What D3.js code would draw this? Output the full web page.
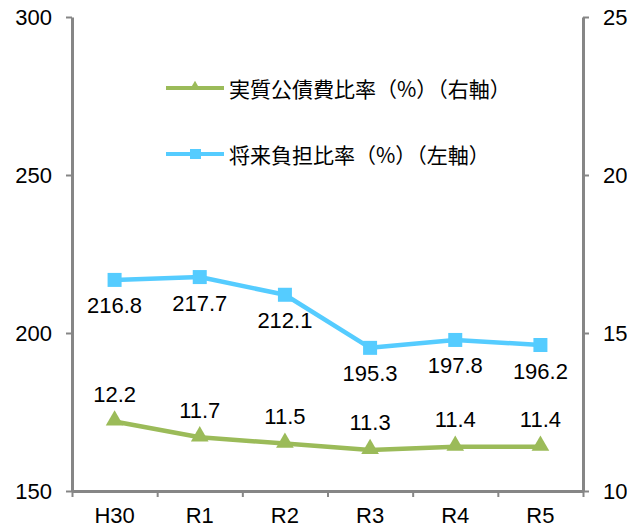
<!DOCTYPE html>
<html><head><meta charset="utf-8">
<script src="https://cdn.jsdelivr.net/npm/d3@7/dist/d3.min.js"></script>
<style>
html,body{margin:0;padding:0;background:#fff;}
svg{display:block;}
</style></head>
<body>
<svg id="chart" width="627" height="529"></svg>
<script>
const categories = ["H30", "R1", "R2", "R3", "R4", "R5"];
const burdenRatio = [216.8, 217.7, 212.1, 195.3, 197.8, 196.2];     // 将来負担比率 (left axis)
const debtRatio = [12.2, 11.7, 11.5, 11.3, 11.4, 11.4];             // 実質公債費比率 (right axis)
const leftTicks = [150, 200, 250, 300];
const rightTicks = [10, 15, 20, 25];
const burdenName = "将来負担比率（%）（左軸）";
const debtName = "実質公債費比率（%）（右軸）";

const svg = d3.select("#chart");
const X0 = 72, X1 = 583, Y0 = 17, Y1 = 491;
const axisColor = "#868686";
const blue = "#55CCFF", green = "#9BBB59";
const numFont = "'Liberation Sans', Arial, sans-serif";
const cjkFont = "'Noto Sans CJK JP', 'Noto Sans', sans-serif";

const x = d3.scaleBand().domain(categories).range([X0, X1]);
const xEdge = d3.scaleLinear().domain([0, categories.length]).range([X0, X1]);
const yL = d3.scaleLinear().domain([150, 300]).range([Y1, Y0]);
const yR = d3.scaleLinear().domain([10, 25]).range([Y1, Y0]);

function styleAxis(g) {
  g.selectAll("path.domain").attr("stroke", axisColor).attr("stroke-width", 3);
  g.selectAll(".tick line").attr("stroke", axisColor).attr("stroke-width", 2);
  g.selectAll("text").attr("fill", "#000").style("font-family", numFont).style("font-size", "22px");
}

// left axis
svg.append("g").attr("transform", `translate(${X0},0)`)
  .call(d3.axisLeft(yL).tickValues(leftTicks).tickSize(6).tickSizeOuter(0).tickPadding(14))
  .call(styleAxis);

// right axis
svg.append("g").attr("transform", `translate(${X1},0)`)
  .call(d3.axisRight(yR).tickValues(rightTicks).tickSize(6).tickSizeOuter(0).tickPadding(14))
  .call(styleAxis);

// bottom axis (ticks at category boundaries)
svg.append("g").attr("transform", `translate(0,${Y1})`)
  .call(d3.axisBottom(xEdge).tickValues(d3.range(categories.length + 1)).tickFormat("").tickSize(6).tickSizeOuter(0))
  .call(styleAxis);
svg.append("g").attr("transform", `translate(0,${Y1})`)
  .call(d3.axisBottom(x).tickSize(0).tickPadding(16))
  .call(g => g.select("path.domain").remove())
  .call(styleAxis);

const cx = d => x(d) + x.bandwidth() / 2;

// debt ratio line (right axis)
const dData = categories.map((c, i) => ({c, v: debtRatio[i]}));
svg.append("path").datum(dData)
  .attr("fill", "none").attr("stroke", green).attr("stroke-width", 4.5).attr("stroke-linejoin", "round")
  .attr("d", d3.line().x(d => cx(d.c)).y(d => yR(d.v)));
const tri = d3.symbol().type(d3.symbolTriangle).size(135);
svg.selectAll(".tri").data(dData).enter().append("path")
  .attr("transform", d => `translate(${cx(d.c)},${yR(d.v) - 1})`)
  .attr("d", tri).attr("fill", green);
svg.selectAll(".dlab").data(dData).enter().append("text")
  .attr("x", d => cx(d.c)).attr("y", d => yR(d.v) - 27)
  .attr("text-anchor", "middle").attr("dominant-baseline", "central")
  .style("font-family", numFont).style("font-size", "22px").text(d => d.v.toFixed(1));

// burden ratio line (left axis)
const bData = categories.map((c, i) => ({c, v: burdenRatio[i]}));
svg.append("path").datum(bData)
  .attr("fill", "none").attr("stroke", blue).attr("stroke-width", 4.5).attr("stroke-linejoin", "round")
  .attr("d", d3.line().x(d => cx(d.c)).y(d => yL(d.v)));
svg.selectAll(".sq").data(bData).enter().append("rect")
  .attr("x", d => cx(d.c) - 7).attr("y", d => yL(d.v) - 7)
  .attr("width", 14).attr("height", 14).attr("fill", blue);
svg.selectAll(".blab").data(bData).enter().append("text")
  .attr("x", d => cx(d.c)).attr("y", d => yL(d.v) + 26)
  .attr("text-anchor", "middle").attr("dominant-baseline", "central")
  .style("font-family", numFont).style("font-size", "22px").text(d => d.v.toFixed(1));

// legend
const leg = svg.append("g");
const legItems = [
  {name: debtName, color: green, y: 88, marker: "tri"},
  {name: burdenName, color: blue, y: 154, marker: "sq"}
];
legItems.forEach(it => {
  leg.append("line").attr("x1", 166).attr("x2", 224).attr("y1", it.y).attr("y2", it.y)
    .attr("stroke", it.color).attr("stroke-width", 4);
  if (it.marker === "tri") {
    leg.append("path").attr("transform", `translate(195,${it.y - 1})`)
      .attr("d", d3.symbol().type(d3.symbolTriangle).size(50)).attr("fill", it.color);
  } else {
    leg.append("rect").attr("x", 190).attr("y", it.y - 5).attr("width", 11).attr("height", 10).attr("fill", it.color);
  }
  leg.append("text").attr("x", 229).attr("y", it.y).attr("dominant-baseline", "central")
    .style("font-family", cjkFont).style("font-size", "21px").attr("fill", "#000").text(it.name);
});
</script>
</body></html>
